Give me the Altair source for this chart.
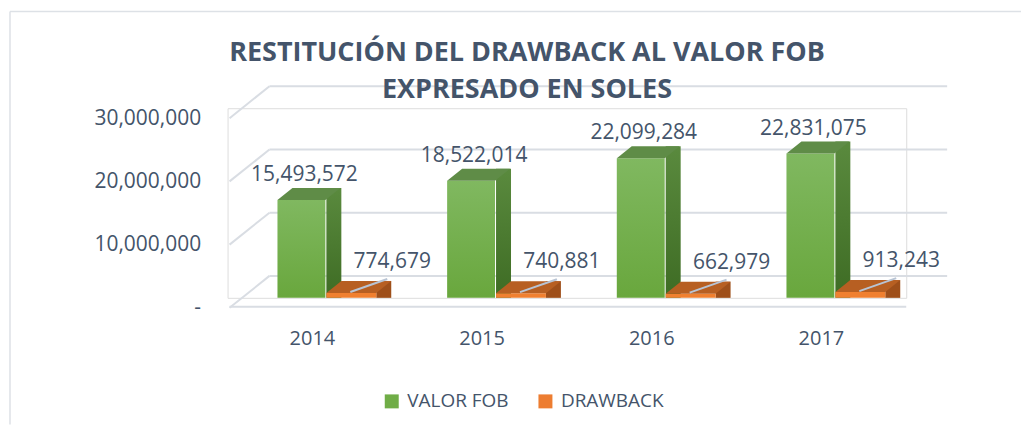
import altair as alt
import pandas as pd

# ---- data ----
years = ["2014", "2015", "2016", "2017"]
valor_fob = [15493572, 18522014, 22099284, 22831075]
drawback = [774679, 740881, 662979, 913243]
series_names = ["VALOR FOB", "DRAWBACK"]
y_ticks = [0, 10000000, 20000000, 30000000]

fob_df = pd.DataFrame({"year": years, "value": valor_fob, "series": "VALOR FOB"})
dbk_df = pd.DataFrame({"year": years, "value": drawback, "series": "DRAWBACK"})
long_df = pd.concat([fob_df, dbk_df], ignore_index=True)
tick_df = pd.DataFrame({"tick": y_ticks})
one_df = pd.DataFrame({"k": [0]})

TEXT = "#44546a"
FONT = "Open Sans"
GRID = "#d9dde3"

y_scale = alt.Scale(domain=[0, 30000000], nice=False, zero=True)
x_scale = alt.Scale(paddingInner=0, paddingOuter=0)

x_axis = alt.Axis(labelAngle=0, labelFontSize=20, labelFont=FONT, labelColor=TEXT,
                  domain=False, ticks=False, grid=False, labelPadding=31, title=None)
y_axis = alt.Axis(values=y_ticks, labelFontSize=21, labelFont=FONT, labelColor=TEXT,
                  domain=False, ticks=False, grid=False, labelPadding=27, labelOffset=10,
                  title=None,
                  labelExpr="datum.value == 0 ? '-' : format(datum.value, ',')")

X = alt.X("year:N", scale=x_scale, axis=x_axis, title=None, sort=years)
Y = alt.Y("value:Q", scale=y_scale, axis=y_axis, title=None)
Yt = alt.Y("tick:Q", scale=y_scale, axis=y_axis, title=None)

# ---- chart frame (outer border) ----
border_top = alt.Chart(one_df).mark_rule(color="#dde1e6", strokeWidth=1.5).encode(
    x=alt.value(-218), x2=alt.value(795), y=alt.value(-97))
border_left = alt.Chart(one_df).mark_rule(color="#dde1e6", strokeWidth=1.5).encode(
    x=alt.value(-218), y=alt.value(-97), y2=alt.value(317))

# ---- pseudo-3D walls ----
back_grid = alt.Chart(tick_df).mark_rule(color=GRID, strokeWidth=2, yOffset=-22).encode(
    y=Yt, x=alt.value(42), x2=alt.value(721))
side_grid = alt.Chart(tick_df).mark_rule(color=GRID, strokeWidth=2, yOffset=10, y2Offset=-22).encode(
    y=Yt, y2=alt.Y2("tick:Q"), x=alt.value(2), x2=alt.value(42))
floor_front = alt.Chart(tick_df[tick_df.tick == 0]).mark_rule(color=GRID, strokeWidth=2, yOffset=9).encode(
    y=Yt, x=alt.value(2), x2=alt.value(680))

green_front_grad = alt.Gradient(gradient="linear", x1=0, x2=0, y1=0, y2=1,
                                stops=[alt.GradientStop(color="#80b860", offset=0),
                                       alt.GradientStop(color="#69a73d", offset=1)])
green_side_grad = alt.Gradient(gradient="linear", x1=0, x2=0, y1=0, y2=1,
                               stops=[alt.GradientStop(color="#5a8a3e", offset=0),
                                      alt.GradientStop(color="#3e6c24", offset=1)])

top_shape_g = "M -1 0.1905 L 0.5238 0.1905 L 1 -0.1905 L -0.5238 -0.1905 Z"
top_shape_o = "M -1 0.1846 L 0.5385 0.1846 L 1 -0.1846 L -0.5385 -0.1846 Z"

g_side = alt.Chart(fob_df).mark_bar(width=15, xOffset=21.5, yOffset=-12, color=green_side_grad).encode(
    x=X, y=Y, y2=alt.datum(0))
g_front = alt.Chart(fob_df).mark_bar(width=48, xOffset=-11, color=green_front_grad).encode(
    x=X, y=Y, y2=alt.datum(0))
g_top = alt.Chart(fob_df).mark_point(shape=top_shape_g, size=3969, filled=True, opacity=1,
                                     color="#5f8c47", xOffset=-3.5, yOffset=-6).encode(x=X, y=Y)

o_side = alt.Chart(dbk_df).mark_bar(width=15, xOffset=71.5, yOffset=-12, color="#9e4f1a").encode(
    x=X, y=Y, y2=alt.datum(0))
o_front = alt.Chart(dbk_df).mark_bar(width=50, xOffset=39, color="#f08030").encode(
    x=X, y=Y, y2=alt.datum(0))
o_top = alt.Chart(dbk_df).mark_point(shape=top_shape_o, size=4225, filled=True, opacity=1,
                                     color="#b75f22", xOffset=46.5, yOffset=-6).encode(x=X, y=Y)

leader = alt.Chart(dbk_df).mark_rule(color="#b8c4d4", strokeWidth=2, xOffset=38, yOffset=-1,
                                     x2Offset=75, y2Offset=-14).encode(
    x=X, x2=alt.X2("year:N"), y=Y, y2=alt.Y2("value:Q"))

g_text = alt.Chart(fob_df).mark_text(dx=-8, dy=-25, baseline="middle", fontSize=21, font=FONT,
                                     color=TEXT).encode(x=X, y=Y, text=alt.Text("value:Q", format=","))
o_text = alt.Chart(dbk_df).mark_text(dx=80, dy=-31, baseline="middle", fontSize=21, font=FONT,
                                     color=TEXT).encode(x=X, y=Y, text=alt.Text("value:Q", format=","))

legend_layer = alt.Chart(long_df).mark_square(opacity=0).encode(
    x=X, y=Y,
    color=alt.Color("series:N", sort=series_names,
                    scale=alt.Scale(domain=series_names, range=["#70ad47", "#ed7d31"]),
                    legend=alt.Legend(orient="none", legendX=155, legendY=284, direction="horizontal",
                                      title=None, symbolType="square", symbolSize=196,
                                      symbolOpacity=1, symbolStrokeWidth=0, labelFontSize=19,
                                      labelFont=FONT, labelColor=TEXT, columnPadding=27,
                                      labelOffset=6, padding=0)))

chart = alt.layer(
    border_top, border_left, back_grid, side_grid, floor_front,
    g_front, g_side, g_top, o_side, o_front, o_top, leader, g_text, o_text, legend_layer
).properties(
    width=680, height=190,
    padding={"left": 1, "top": 2, "right": 0, "bottom": 0},
    title=alt.TitleParams(
        text=["RESTITUCIÓN DEL DRAWBACK AL VALOR FOB", "EXPRESADO EN SOLES"],
        font=FONT, fontSize=27, fontWeight="bold", color=TEXT, anchor="middle",
        frame="group", dx=-40, offset=-94, lineHeight=38),
).configure_view(strokeOpacity=0, strokeWidth=0).configure(background="white")

chart.save("out.html", embed_options={"renderer": "svg", "actions": False})
